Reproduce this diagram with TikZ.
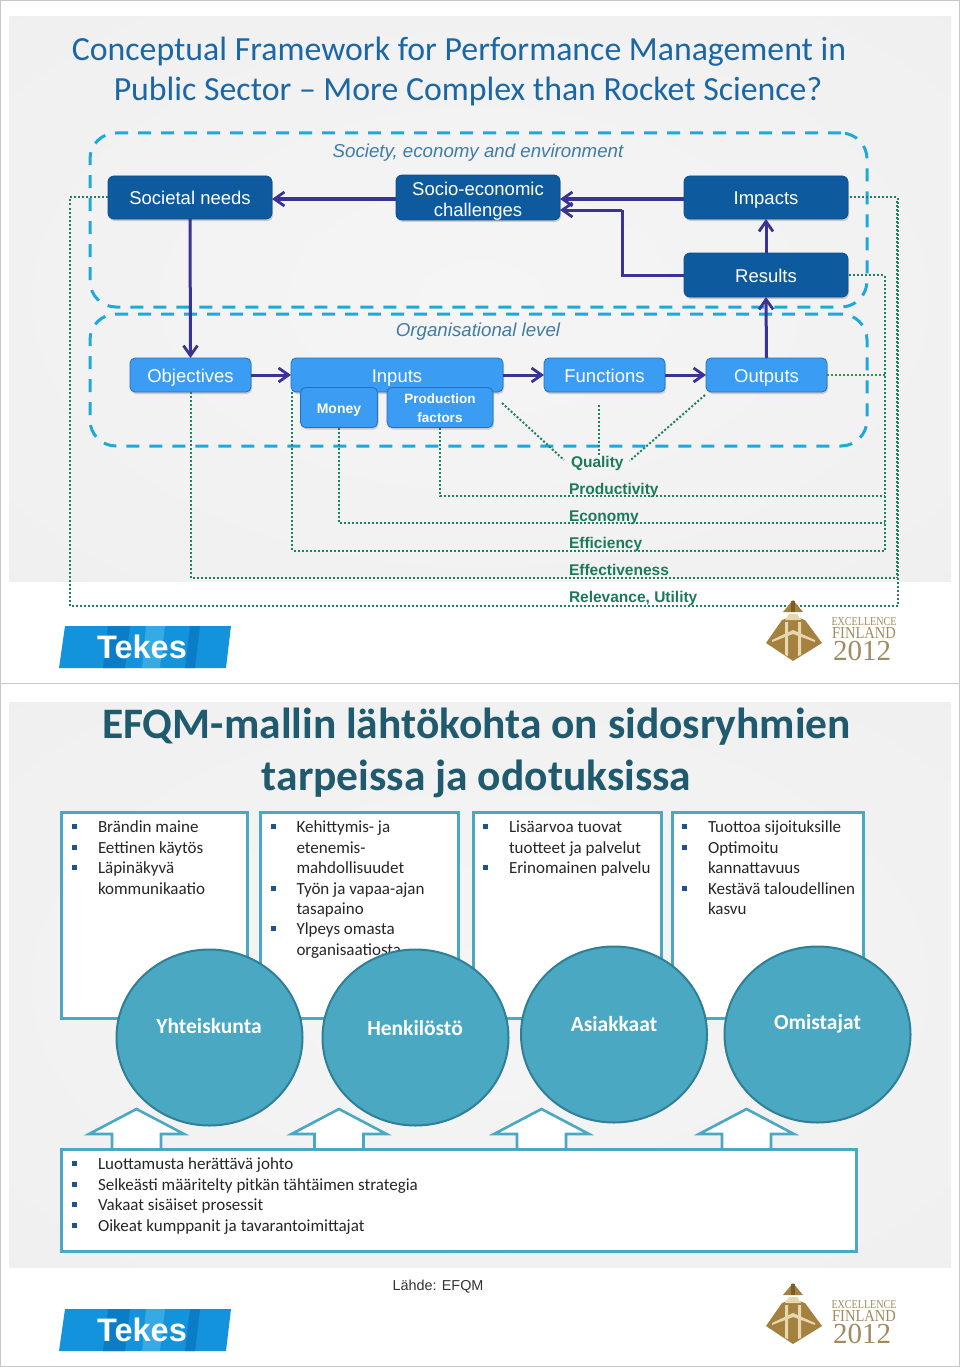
\documentclass[tikz,border=0pt]{standalone}
\usepackage{fontspec}
\usepackage{graphicx}
\setmainfont{Carlito}
\newfontfamily\arialf{Liberation Sans}
\newfontfamily\timesf{Liberation Serif}
\usetikzlibrary{arrows.meta,shadows,calc,shapes.geometric}
\definecolor{flowc}{HTML}{3B3296}
\definecolor{dashc}{HTML}{1FA9D8}
\definecolor{dotc}{HTML}{1E7F62}
\definecolor{dotg}{HTML}{2E9A3C}
\definecolor{labc}{HTML}{1C7A5C}
\definecolor{levelc}{HTML}{3F7CA6}
\definecolor{titlea}{HTML}{1B66A4}
\definecolor{titleb}{HTML}{205A6E}
\definecolor{tealc}{HTML}{4AA8C3}
\definecolor{tealedge}{HTML}{2F7F97}
\definecolor{bulc}{HTML}{1F5390}
\definecolor{goldc}{HTML}{A5813F}
\definecolor{goldl}{HTML}{E6D7AE}
\definecolor{goldd}{HTML}{7A5F2E}
\definecolor{goldt}{HTML}{A08A5E}
\definecolor{dka}{HTML}{0C4C8A}
\definecolor{dkb}{HTML}{0E5A9E}
\definecolor{dkc}{HTML}{2F7EBE}
\definecolor{lta}{HTML}{2B86DC}
\definecolor{ltb}{HTML}{3A9CF2}
\definecolor{ltc}{HTML}{6CBBF8}
\definecolor{lte}{HTML}{2470C0}
\definecolor{bga}{HTML}{F5F5F5}
\definecolor{bgb}{HTML}{F0F0F0}
\definecolor{bgc}{HTML}{E4E4E4}
\definecolor{bgd}{HTML}{D0D0D0}
\definecolor{tkbase}{HTML}{1293DC}
\definecolor{tkdark}{HTML}{0B7CC6}
\definecolor{tklight}{HTML}{35AAE4}
\pgfdeclareverticalshading{darkbox}{100bp}{color(0bp)=(dka);color(12bp)=(dkb);color(85bp)=(dkb);color(100bp)=(dkc)}
\pgfdeclareverticalshading{lightbox}{100bp}{color(0bp)=(lta);color(12bp)=(ltb);color(82bp)=(ltb);color(100bp)=(ltc)}
\pgfdeclareradialshading{slidebg}{\pgfpoint{0bp}{0bp}}{color(0bp)=(bga);color(34bp)=(bgb);color(52bp)=(bgc);color(71bp)=(bgd)}
\newcommand{\bulit}{\leavevmode\llap{\textcolor{bulc}{\raisebox{3.5pt}{\rule{5pt}{5pt}}}\hspace{21pt}}}
\tikzset{
  every node/.style={inner sep=0pt,outer sep=0pt},
  slideframe/.style={draw=black!22,line width=1pt,fill=white},
  slidearea/.style={shading=slidebg},
  boxdark/.style={shading=darkbox,draw=dka,rounded corners=6pt,line width=.8pt,text=white,align=center,
     font=\arialf\fontsize{18.5}{23}\selectfont,drop shadow={opacity=.35,shadow xshift=1pt,shadow yshift=-2pt}},
  boxlight/.style={shading=lightbox,draw=lte,rounded corners=5pt,line width=.8pt,text=white,align=center,
     font=\arialf\fontsize{18.5}{23}\selectfont,drop shadow={opacity=.35,shadow xshift=1pt,shadow yshift=-2pt}},
  boxsmall/.style={boxlight,font=\arialf\bfseries\fontsize{14}{19}\selectfont},
  oneline/.style={text height=14.5pt,text depth=0pt},
  onesmall/.style={text height=11pt,text depth=0pt},
  level/.style={draw=dashc,line width=3pt,rounded corners=26pt,dash pattern=on 13pt off 10pt},
  leveltext/.style={text=levelc,font=\arialf\itshape\fontsize{18.7}{22}\selectfont},
  flow/.style={draw=flowc,line width=3pt,-{Straight Barb[length=10pt,width=14pt,line width=2.8pt]}},
  flowplain/.style={draw=flowc,line width=3pt},
  dotline/.style={draw=dotc,line width=2pt,dash pattern=on 2pt off 2pt},
  dotbright/.style={dotline,draw=dotg},
  measure/.style={anchor=base west,text=labc,font=\arialf\bfseries\fontsize{15.5}{18}\selectfont},
  maintitle/.style={align=center,text=titlea,font=\fontsize{33.8}{40}\selectfont},
  subtitle/.style={align=center,text=titleb,font=\bfseries\fontsize{43.5}{52}\selectfont},
  listbox/.style={draw=tealc,line width=3pt,fill=white,anchor=north west},
  listtext/.style={anchor=north west,align=left,text=black!85,font=\fontsize{17}{20.4}\selectfont},
  bubble/.style={ellipse,draw=tealedge,line width=2pt,fill=tealc},
  bubbletext/.style={text=white,font=\bfseries\fontsize{21.5}{26}\selectfont},
  upblock/.style={draw=tealc,line width=2.6pt,fill=white,line join=miter},
  tekeslogo/.pic={
    \fill[tkbase] (65,626) -- (231,626) -- (226,668) -- (59,668) -- cycle;
    \fill[tkdark] (108,626) -- (130,626) -- (125,668) -- (103,668) -- cycle;
    \fill[tklight] (146,626) -- (165,626) -- (160,668) -- (142,668) -- cycle;
    \fill[tkdark] (190,626) -- (200,626) -- (195,668) -- (185,668) -- cycle;
    \node[text=white,font=\arialf\bfseries\fontsize{32.5}{34}\selectfont] (-word) at (142,647) {Tekes};
  },
  exlogo/.pic={
    \fill[goldc] (793,600) -- (803,612) -- (783,612) -- cycle;
    \fill[goldd] (791,601) rectangle (795,612);
    \fill[goldc] (793,616) -- (805,620) -- (822,643) -- (793,661) -- (766,643) -- (782,620) -- cycle;
    \fill[goldl] (785,620) -- (801,620) -- (797,614) -- (789,614) -- cycle;
    \fill[goldl] (785,622) -- (788,622) -- (788,656) -- (785,655) -- cycle;
    \fill[goldl] (798,622) -- (801,622) -- (801,655) -- (798,656) -- cycle;
    \fill[goldl] (772,640) -- (793,630) -- (815,640) -- (815,642) -- (793,634) -- (772,642) -- cycle;
    \node[anchor=base,text=goldt,font=\timesf\fontsize{12}{13}\selectfont] (-a) at (864,625) {\scalebox{.84}[1]{EXCELLENCE}};
    \node[anchor=base,text=goldt,font=\timesf\fontsize{16.7}{17}\selectfont] (-b) at (864,638) {\scalebox{.87}[1]{FINLAND}};
    \node[anchor=base,text=goldt,font=\timesf\fontsize{29}{30}\selectfont] (-c) at (862,660) {2012};
  }
}
\begin{document}
\begin{tikzpicture}[x=1pt,y=-1pt]
\useasboundingbox (0,0) rectangle (960,1367);
% slide frames and backgrounds
\draw[slideframe] (0.5,0.5) rectangle (959.2,683);
\draw[slideframe] (0.5,683) rectangle (959.2,1366.5);
\shade[slidearea] (9,17) rectangle (951,581);
\shade[slidearea] (9,702) rectangle (951,1267);

% slide 1 title
\node[maintitle] (t1) at (459,71.5) {Conceptual Framework for Performance Management in\\\hspace*{18pt}Public Sector -- More Complex than Rocket Science?};

% levels
\node[level,minimum width=777pt,minimum height=174pt] (society) at (478.5,220) {};
\node[level,minimum width=777pt,minimum height=132pt] (org) at (478.5,380) {};
\node[leveltext] (societyt) at (478,152.5) {Society, economy and environment};
\node[leveltext] (orgt) at (478,331.5) {Organisational level};

% measure labels
\node[measure] (quality) at (571,467) {Quality};
\node[measure] (productivity) at (569,494) {Productivity};
\node[measure] (economy) at (569,521) {Economy};
\node[measure] (efficiency) at (569,548) {Efficiency};
\node[measure] (effectiveness) at (569,575) {Effectiveness};
\node[measure] (relevance) at (569,602) {Relevance, Utility};

% bend coordinates
\coordinate (leftrail) at (70,606);
\coordinate (rightrail) at (897.5,606);
\coordinate (midrail) at (884.5,496);
\coordinate (q1) at (502,403);
\coordinate (q2) at (599,405);
\coordinate (q3) at (705,395);

% boxes
\node[boxdark,oneline,minimum width=164pt,minimum height=43pt] (needs) at (190,197.5) {Societal needs};
\node[boxdark,minimum width=164pt,minimum height=43pt,font=\arialf\fontsize{18.5}{21}\selectfont] (socio) at (478,197.5) {\rule{0pt}{20pt}Socio-economic\\challenges};
\node[boxdark,oneline,minimum width=164pt,minimum height=43pt] (impacts) at (766,197.5) {Impacts};
\node[boxdark,oneline,minimum width=164pt,minimum height=44pt] (results) at (766,275) {Results};
\node[boxlight,oneline,minimum width=121pt,minimum height=34pt] (objectives) at (190.5,375) {Objectives};
\node[boxlight,oneline,minimum width=212pt,minimum height=34pt] (inputs) at (397,375) {Inputs};
\node[boxsmall,onesmall,minimum width=77pt,minimum height=40pt] (money) at (339,407.5) {Money};
\node[boxsmall,minimum width=106pt,minimum height=40pt,font=\arialf\bfseries\fontsize{13.5}{19}\selectfont] (production) at (440,407.5) {\rule{0pt}{12pt}Production\\factors};
\node[boxlight,oneline,minimum width=121pt,minimum height=34pt] (functions) at (604.5,375) {Functions};
\node[boxlight,oneline,minimum width=121pt,minimum height=34pt] (outputs) at (766.5,375) {Outputs};

% dotted connectors
\draw[dotline] (needs.west) -| (leftrail) -- (rightrail) |- (impacts.east);
\draw[dotline] (objectives.south) |- ($(rightrail)+(-.5,-28)$) -- ++(0,-379);
\draw[dotline] ([xshift=1pt]inputs.south west) |- ($(midrail)+(0,54.5)$) |- (results.east);
\draw[dotline] (money.south) |- ($(midrail)+(0,27)$);
\draw[dotline] (production.south) |- (midrail);
\draw[dotbright] (outputs.east) -- (outputs.east -| midrail);
\draw[dotline] (q1) -- ([xshift=-7pt,yshift=3pt]quality.west);
\draw[dotline] (q2) -- (quality.north -| q2);
\draw[dotline] (q3) -- ([xshift=6pt,yshift=2pt]quality.east);

% solid connectors
\draw[flow] ([yshift=-1.5pt]socio.west) -- ([yshift=-1.5pt]needs.east);
\draw[flow] ([yshift=-1.5pt]impacts.west) -- ([yshift=-1.5pt]socio.east);
\coordinate (resbend) at (622,210);
\draw[flowplain] (results.west) -| (resbend);
\draw[flow] (resbend) -- (socio.east |- resbend);
\draw[flow] (needs.south) -- (objectives.north);
\draw[flow] (objectives.east) -- (inputs.west);
\draw[flow] (inputs.east) -- (functions.west);
\draw[flow] (functions.east) -- (outputs.west);
\draw[flow] (results.north) -- (impacts.south);
\draw[flow] (outputs.north) -- (results.south);

% logos
\pic (la) at (0,0) {tekeslogo};
\pic (lb) at (0,683) {tekeslogo};
\pic (ea) at (0,0) {exlogo};
\pic (eb) at (0,683) {exlogo};

% slide 2 title
\node[subtitle] (t2) at (476.5,753) {EFQM-mallin lähtökohta on sidosryhmien\\tarpeissa ja odotuksissa};

% list boxes
\node[listbox,minimum width=186pt,minimum height=206pt] (b1) at (61,812) {};
\node[listbox,minimum width=198pt,minimum height=206pt] (b2) at (260,812) {};
\node[listbox,minimum width=188pt,minimum height=206pt] (b3) at (473,812) {};
\node[listbox,minimum width=191pt,minimum height=206pt] (b4) at (672,812) {};

\node[listtext] (l1) at (98,821) {\bulit Brändin maine\\\bulit Eettinen käytös\\\bulit Läpinäkyvä\\kommunikaatio};
\node[listtext] (l2) at (296.5,821) {\bulit Kehittymis- ja\\etenemis-\\mahdollisuudet\\\bulit Työn ja vapaa-ajan\\tasapaino\\\bulit Ylpeys omasta\\organisaatiosta};
\node[listtext] (l3) at (509,821) {\bulit Lisäarvoa tuovat\\tuotteet ja palvelut\\\bulit Erinomainen palvelu};
\node[listtext] (l4) at (708,821) {\bulit Tuottoa sijoituksille\\\bulit Optimoitu\\kannattavuus\\\bulit Kestävä taloudellinen\\kasvu};

% block arrows
\foreach \c in {136.5,339,541.5,746.5}{
  \draw[upblock] (\c,1109) -- (\c+47.5,1134) -- (\c+24.5,1134) -- (\c+24.5,1152) -- (\c-24.5,1152) -- (\c-24.5,1134) -- (\c-47.5,1134) -- cycle;
}

% bottom box
\node[listbox,minimum width=795pt,minimum height=102pt] (base) at (61,1149) {};
\node[listtext] (baset) at (98,1158) {\bulit Luottamusta herättävä johto\\\bulit Selkeästi määritelty pitkän tähtäimen strategia\\\bulit Vakaat sisäiset prosessit\\\bulit Oikeat kumppanit ja tavarantoimittajat};

% circles
\node[bubble,minimum width=186pt,minimum height=176pt] (c1) at (209.5,1037.5) {};
\node[bubble,minimum width=186pt,minimum height=176pt] (c2) at (415.5,1037.5) {};
\node[bubble,minimum width=186pt,minimum height=176pt] (c3) at (614,1034.5) {};
\node[bubble,minimum width=186pt,minimum height=176pt] (c4) at (817.5,1034.5) {};
\node[bubbletext] (c1t) at (209,1026.5) {Yhteiskunta};
\node[bubbletext] (c2t) at (415,1028.5) {Henkilöstö};
\node[bubbletext] (c3t) at (614,1024) {Asiakkaat};
\node[bubbletext] (c4t) at (817.5,1024) {Omistajat};

% source
\node[anchor=base west,text=black!80,font=\arialf\fontsize{14.4}{18}\selectfont] (src) at (392.5,1290) {Lähde: EFQM};
\end{tikzpicture}
\end{document}
